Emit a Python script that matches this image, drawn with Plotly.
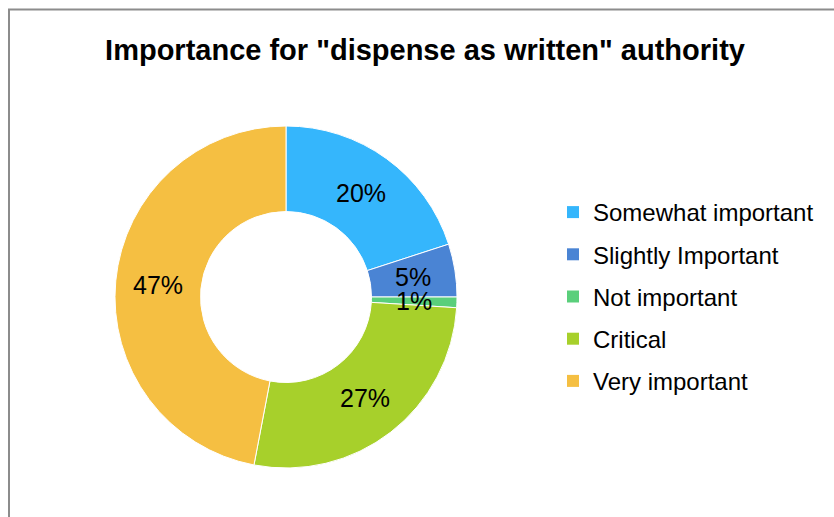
import math
import plotly.graph_objects as go

labels = ["Somewhat important", "Slightly Important", "Not important", "Critical", "Very important"]
values = [20, 5, 1, 27, 47]
colors = ["#35B6FC", "#4A84D4", "#5ACF7B", "#A7D02B", "#F5BF42"]
title = 'Importance for "dispense as written" authority'

W, H = 834, 517
FONT = "Liberation Sans, Arial, sans-serif"

# donut placement (pixels)
CX, CY, R_OUT, HOLE = 286, 297, 171, 0.5
dom_x = [(CX - R_OUT) / W, (CX + R_OUT) / W]
dom_y = [1 - (CY + R_OUT) / H, 1 - (CY - R_OUT) / H]

fig = go.Figure()
fig.add_trace(go.Pie(
    labels=labels, values=values, hole=HOLE, sort=False, direction="clockwise", rotation=0,
    marker=dict(colors=colors, line=dict(color="white", width=1)),
    textinfo="none", showlegend=False, hoverinfo="label+percent",
    domain=dict(x=dom_x, y=dom_y),
))
for i, (lab, col) in enumerate(zip(labels, colors)):
    fig.add_trace(go.Scatter(
        x=[None], y=[None], mode="markers", name=lab, legendgroup=f"g{i}",
        marker=dict(symbol="square", size=12, color=col), showlegend=True,
    ))

# percentage labels at the middle of each ring segment
total = sum(values)
r_mid = R_OUT * (1 + HOLE) / 2
annotations = []
cum = 0
for v in values:
    frac = (cum + v / 2) / total
    cum += v
    ang = 2 * math.pi * frac
    px = CX + r_mid * math.sin(ang)
    py = CY - r_mid * math.cos(ang)
    annotations.append(dict(
        x=px / W, y=1 - py / H, xref="paper", yref="paper", showarrow=False,
        text=f"{round(100 * v / total)}%", xanchor="center", yanchor="middle",
        font=dict(family=FONT, size=25, color="black"),
    ))

fig.update_layout(
    width=W, height=H, autosize=False,
    margin=dict(l=0, r=0, t=0, b=0),
    paper_bgcolor="white", plot_bgcolor="white",
    font=dict(family=FONT, color="black"),
    title=dict(text=f"<b>{title}</b>", x=425 / W, xanchor="center", y=1 - 50 / H, yanchor="middle",
               xref="paper", yref="paper", font=dict(family=FONT, size=29, color="black")),
    xaxis=dict(visible=False), yaxis=dict(visible=False),
    legend=dict(x=553 / W, y=1 - 190 / H, xanchor="left", yanchor="top",
                font=dict(family=FONT, size=24, color="black"),
                tracegroupgap=8, itemwidth=30, bgcolor="rgba(0,0,0,0)"),
    annotations=annotations,
    shapes=[dict(type="rect", xref="paper", yref="paper", x0=9 / W, x1=1.2, y0=-0.2, y1=1 - 9.5 / H,
                 line=dict(color="#8C8C8C", width=2), fillcolor="rgba(0,0,0,0)", layer="below")],
)

fig.write_html("out.html")
